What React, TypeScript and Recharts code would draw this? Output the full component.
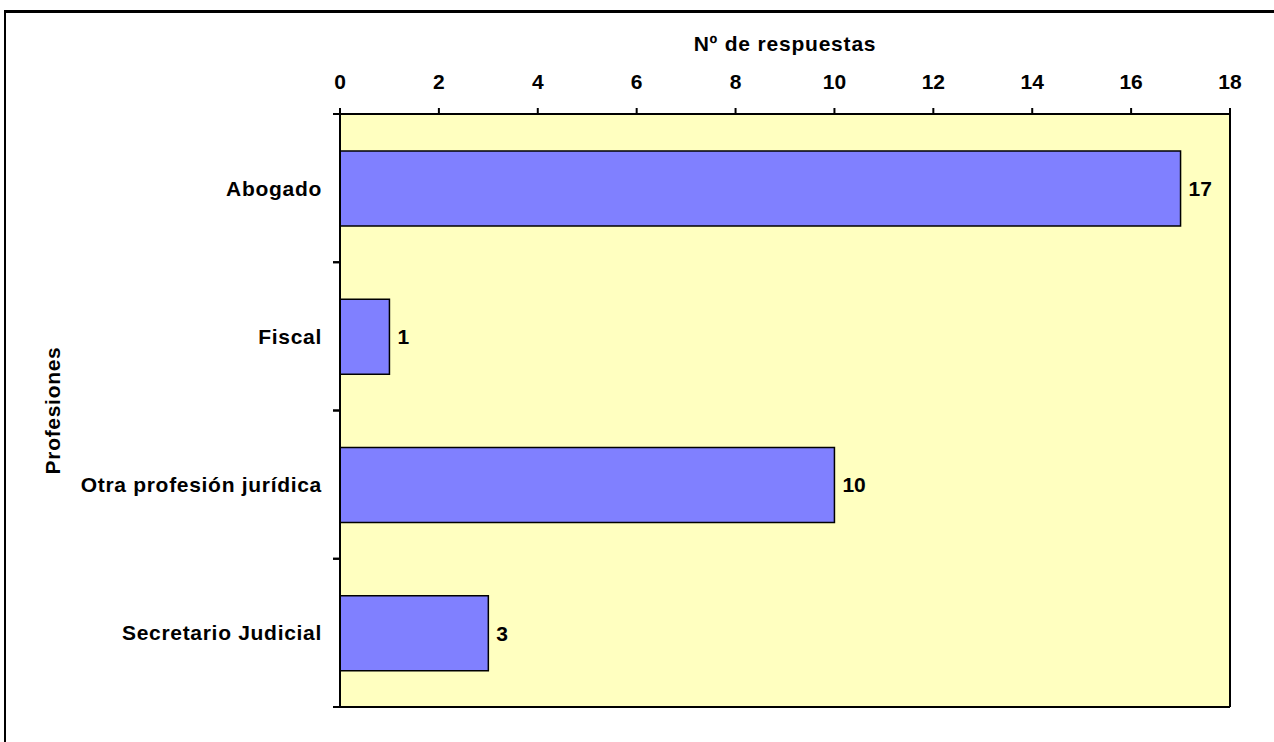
import { BarChart, Bar, XAxis, YAxis, CartesianGrid, LabelList, Label } from "recharts";

const profesiones = ["Abogado", "Fiscal", "Otra profesión jurídica", "Secretario Judicial"];
const respuestas = [17, 1, 10, 3];
const xTicks = [0, 2, 4, 6, 8, 10, 12, 14, 16, 18];

const data = profesiones.map((name, i) => ({ name, value: respuestas[i] }));

const FONT = "'Liberation Sans', Arial, sans-serif";
const txt = { fill: "#000", fontSize: 21, fontWeight: 700, fontFamily: FONT };
const line = { stroke: "#000", strokeWidth: 2 };
const CAT_TICK = 6;
const CAT_MARGIN = 12;

function YTitle({ viewBox }: any) {
  const cx = viewBox.x + 52;
  const cy = viewBox.y + viewBox.height / 2;
  return (
    <text
      x={cx}
      y={cy}
      transform={`rotate(-90 ${cx} ${cy})`}
      textAnchor="middle"
      dominantBaseline="central"
      {...txt}
      letterSpacing={0.7}
    >
      Profesiones
    </text>
  );
}

// category label plus tick marks on the band edges (Excel style)
function CatTick(props: any) {
  const { x, y, payload, height, visibleTicksCount } = props;
  let half = Number(payload && payload.offset);
  if (!Number.isFinite(half) || half <= 0) half = Number(height) / Number(visibleTicksCount) / 2;
  const ax = x + CAT_TICK + CAT_MARGIN;
  return (
    <g>
      {Number.isFinite(half) && (
        <>
          <line x1={ax - 7} x2={ax} y1={y - half} y2={y - half} {...line} />
          <line x1={ax - 7} x2={ax} y1={y + half} y2={y + half} {...line} />
        </>
      )}
      <text x={x} y={y} textAnchor="end" dominantBaseline="central" {...txt} letterSpacing={0.7}>
        {payload.value}
      </text>
    </g>
  );
}

export default function App() {
  return (
    <div style={{ position: "absolute", left: 0, top: 0, width: 1274, height: 742, overflow: "hidden", background: "#fff" }}>
      <div
        style={{
          position: "absolute",
          left: 4,
          top: 10,
          width: 1400,
          height: 900,
          borderLeft: "2px solid #000",
          borderTop: "3px solid #000",
        }}
      />
      <div style={{ position: "absolute", left: 0, top: 0 }}>
        <BarChart
          width={1274}
          height={742}
          data={data}
          layout="vertical"
          barSize={75}
          margin={{ top: 0, right: 44, bottom: 35, left: 0 }}
          style={{ fontFamily: FONT }}
        >
          <CartesianGrid fill="#FFFFC0" horizontal={false} vertical={false} xAxisId="top" yAxisId="cat" />
          <XAxis
            xAxisId="top"
            orientation="top"
            type="number"
            domain={[0, 18]}
            ticks={xTicks}
            height={114}
            tickSize={6}
            tickMargin={19}
            axisLine={line}
            tickLine={line}
            tick={txt}
          >
            <Label
              value="Nº de respuestas"
              position="insideTop"
              offset={36}
              style={{ ...txt, letterSpacing: 0.8 }}
            />
          </XAxis>
          <XAxis
            xAxisId="bottom"
            orientation="bottom"
            type="number"
            domain={[0, 18]}
            mirror
            height={1}
            tick={false}
            tickLine={false}
            axisLine={line}
          />
          <YAxis
            yAxisId="cat"
            orientation="left"
            type="category"
            dataKey="name"
            width={340}
            tickSize={CAT_TICK}
            tickMargin={CAT_MARGIN}
            interval={0}
            tickLine={false}
            axisLine={line}
            tick={<CatTick />}
          >
            <Label content={<YTitle />} />
          </YAxis>
          <YAxis
            yAxisId="right"
            orientation="right"
            type="category"
            dataKey="name"
            mirror
            width={1}
            tick={false}
            tickLine={false}
            axisLine={line}
          />
          <Bar
            dataKey="value"
            xAxisId="top"
            yAxisId="cat"
            fill="#8080FF"
            stroke="#000"
            strokeWidth={1.5}
            isAnimationActive={false}
          >
            <LabelList dataKey="value" position="right" offset={8} style={txt} />
          </Bar>
        </BarChart>
      </div>
    </div>
  );
}
